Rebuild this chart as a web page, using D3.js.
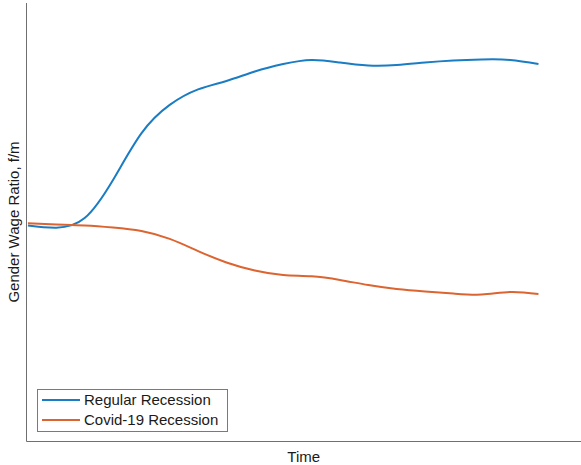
<!DOCTYPE html>
<html><head><meta charset="utf-8">
<script src="https://cdn.jsdelivr.net/npm/d3@7"></script>
<style>body{margin:0;background:#fff}svg{display:block}text{font-family:"Liberation Sans",Arial,Helvetica,sans-serif;fill:#1a1a1a}</style>
</head><body><svg id="c" width="581" height="465"></svg>
<script>
const time = d3.range(0, 19);
const regular = [0.8476,0.8461,0.8527,0.8788,0.9107,0.9302,0.9408,0.9466,0.9531,0.9582,0.9610,0.9592,0.9572,0.9575,0.9592,0.9606,0.9613,0.9610,0.9582];
const covid = [0.8491,0.8483,0.8476,0.8462,0.8438,0.8384,0.8301,0.8223,0.8168,0.8137,0.8128,0.8103,0.8068,0.8041,0.8024,0.8010,0.8003,0.8021,0.8007];
const seriesNames = ["Regular Recession","Covid-19 Recession"];
const colors = ["#1a7cc3","#dc6430"];

const svg = d3.select("#c");
const L = 26.5, R = 581, T = 3, B = 441;
const x = d3.scaleLinear().domain([-0.05, 19.5]).range([L, R]);
const y = d3.scaleLinear().domain([0.70, 1.00]).range([B, T]);

// axes (no ticks)
svg.append("line").attr("x1",L).attr("x2",L).attr("y1",T).attr("y2",B+0.5).attr("stroke","#707070").attr("stroke-width",1);
svg.append("line").attr("x1",L).attr("x2",R).attr("y1",B+0.5).attr("y2",B+0.5).attr("stroke","#707070").attr("stroke-width",1);

const line = d3.line().x((d,i)=>x(time[i])).y(d=>y(d)).curve(d3.curveNatural);
[regular, covid].forEach((s,k)=>{
  svg.append("path").datum(s).attr("d",line).attr("fill","none").attr("stroke",colors[k]).attr("stroke-width",2);
});

svg.append("text").attr("x",(L+R)/2).attr("y",461.5).attr("text-anchor","middle").attr("font-size",15).text("Time");
svg.append("text").attr("transform",`translate(19,${(T+B)/2}) rotate(-90)`).attr("text-anchor","middle").attr("font-size",15).text("Gender Wage Ratio, f/m");

// legend
const lg = svg.append("g");
lg.append("rect").attr("x",37.5).attr("y",389.5).attr("width",190).attr("height",42).attr("fill","#fff").attr("stroke","#7a7a7a").attr("stroke-width",1);
seriesNames.forEach((n,k)=>{
  const yy = 400 + k*20;
  lg.append("line").attr("x1",42).attr("x2",80).attr("y1",yy).attr("y2",yy).attr("stroke",colors[k]).attr("stroke-width",2);
  lg.append("text").attr("x",84).attr("y",yy+5).attr("font-size",15).text(n);
});
</script></body></html>
